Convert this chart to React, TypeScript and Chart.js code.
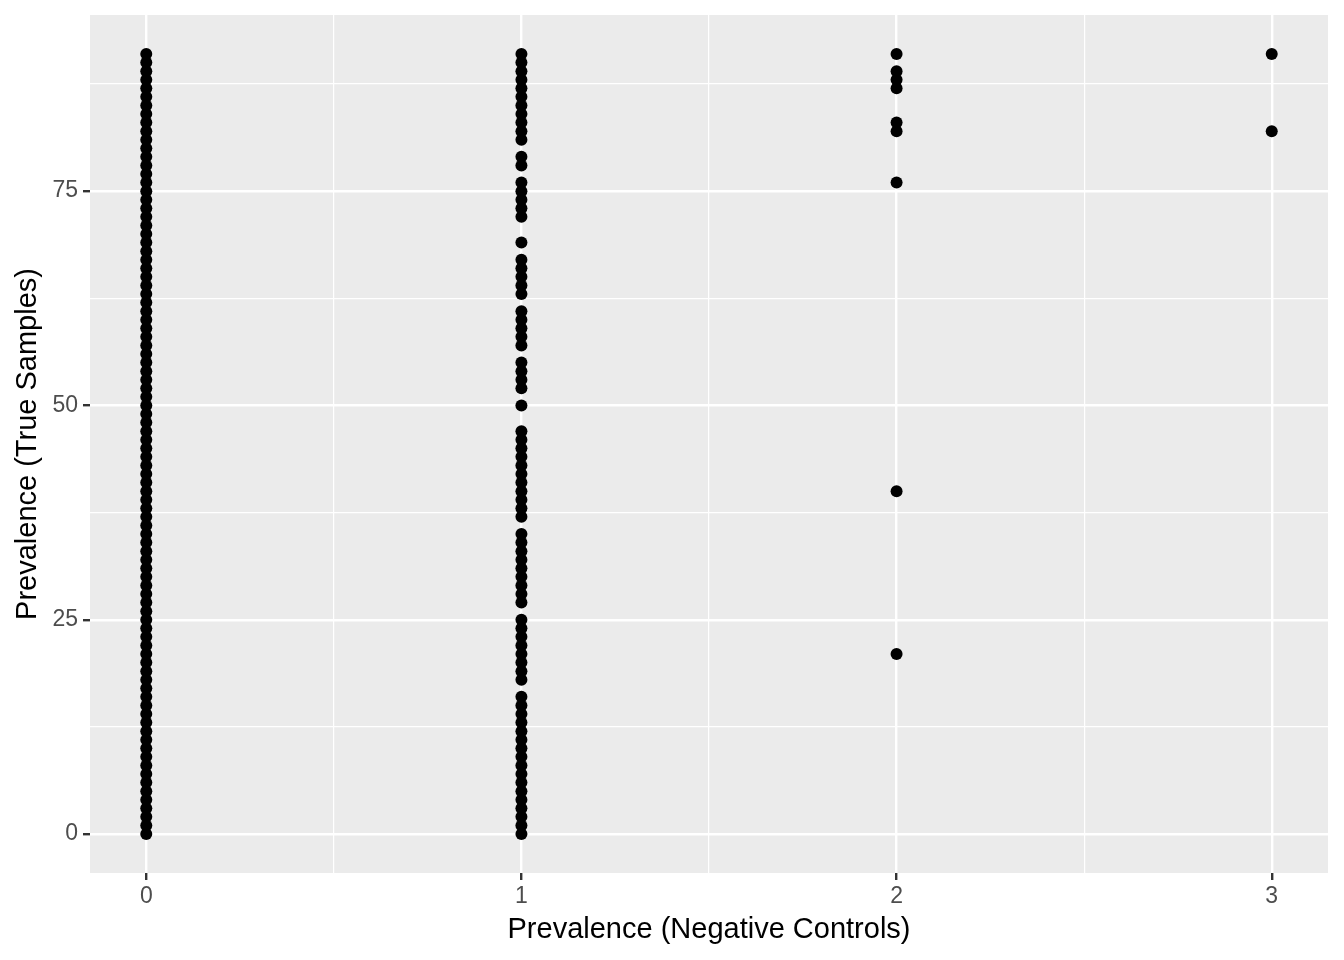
import React, { useEffect, useRef } from "react";
import { Chart, registerables } from "chart.js";

Chart.register(...registerables);

// Prevalence in negative controls (x) vs prevalence in true samples (y)
const col0Values = [
  0, 1, 2, 3, 4, 5, 6, 7, 8, 9, 10, 11, 12, 13, 14, 15, 16, 17, 18, 19, 20,
  21, 22, 23, 24, 25, 26, 27, 28, 29, 30, 31, 32, 33, 34, 35, 36, 37, 38, 39,
  40, 41, 42, 43, 44, 45, 46, 47, 48, 49, 50, 51, 52, 53, 54, 55, 56, 57, 58,
  59, 60, 61, 62, 63, 64, 65, 66, 67, 68, 69, 70, 71, 72, 73, 74, 75, 76, 77,
  78, 79, 80, 81, 82, 83, 84, 85, 86, 87, 88, 89, 90, 91,
];
const col1Values = [
  91, 90, 89, 88, 87, 86, 85, 84, 83, 82, 81, 79, 78, 76, 75, 74, 73, 72, 69,
  67, 66, 65, 64, 63, 61, 60, 59, 58, 57, 55, 54, 53, 52, 50, 47, 46, 45, 44,
  43, 42, 41, 40, 39, 38, 37, 35, 34, 33, 32, 31, 30, 29, 28, 27, 25, 24, 23,
  22, 21, 20, 19, 18, 16, 15, 14, 13, 12, 11, 10, 9, 8, 7, 6, 5, 4, 3, 2, 1, 0,
];
const col2Values = [91, 89, 88, 87, 83, 82, 76, 40, 21];
const col3Values = [91, 82];

const xCategories = [0, 1, 2, 3];
const xGridTicks = [0, 0.5, 1, 1.5, 2, 2.5, 3];
const yGridTicks = [0, 12.5, 25, 37.5, 50, 62.5, 75, 87.5];
const yMajorTicks = [0, 25, 50, 75];
const xTitle = "Prevalence (Negative Controls)";
const yTitle = "Prevalence (True Samples)";

const FONT = "'Liberation Sans', Arial, Helvetica, sans-serif";

export default function App() {
  const canvasRef = useRef<HTMLCanvasElement | null>(null);

  useEffect(() => {
    const canvas = canvasRef.current;
    if (!canvas) return;

    const columns = [col0Values, col1Values, col2Values, col3Values];
    const points: { x: number; y: number }[] = [];
    columns.forEach((vals, i) => {
      vals.forEach((v) => points.push({ x: xCategories[i], y: v }));
    });

    const panelBg = {
      id: "panelBg",
      beforeDraw(chart: any) {
        const { ctx, chartArea } = chart;
        ctx.save();
        ctx.fillStyle = "#EBEBEB";
        ctx.fillRect(
          chartArea.left,
          chartArea.top,
          chartArea.right - chartArea.left,
          chartArea.bottom - chartArea.top
        );
        ctx.restore();
      },
    };

    const isMajorX = (v: number) => Math.abs(v - Math.round(v)) < 1e-6;
    const isMajorY = (v: number) =>
      yMajorTicks.some((t) => Math.abs(t - v) < 1e-6);

    const chart = new Chart(canvas, {
      type: "scatter",
      data: {
        datasets: [
          {
            data: points,
            backgroundColor: "#000000",
            borderWidth: 0,
            pointRadius: 6,
            pointHoverRadius: 6,
          },
        ],
      },
      plugins: [panelBg],
      options: {
        animation: false,
        responsive: false,
        events: [],
        layout: { padding: { top: 15, right: 16, left: 0, bottom: 0 } },
        plugins: {
          legend: { display: false },
          tooltip: { enabled: false },
        },
        scales: {
          x: {
            type: "linear",
            min: -0.15,
            max: 3.15,
            afterBuildTicks: (scale: any) => {
              scale.ticks = xGridTicks.map((v) => ({ value: v }));
            },
            afterFit: (scale: any) => {
              scale.height = 87;
              scale.paddingLeft = 0;
              scale.paddingRight = 0;
            },
            border: { display: false },
            grid: {
              color: "#FFFFFF",
              lineWidth: (ctx: any) =>
                isMajorX(ctx.tick?.value ?? 0) ? 2.4 : 1.2,
              drawTicks: true,
              tickLength: 7,
              tickWidth: 2.4,
              tickColor: (ctx: any) =>
                isMajorX(ctx.tick?.value ?? 0) ? "#333333" : "rgba(0,0,0,0)",
            },
            ticks: {
              autoSkip: false,
              maxRotation: 0,
              padding: 5,
              color: "#4D4D4D",
              font: { family: FONT, size: 23, lineHeight: 1 },
              callback: (v: any) =>
                isMajorX(Number(v)) ? String(Math.round(Number(v))) : "",
            },
            title: {
              display: true,
              text: xTitle,
              color: "#000000",
              font: { family: FONT, size: 29, lineHeight: 1 },
              padding: { top: 0, bottom: 16 },
            },
          },
          y: {
            type: "linear",
            min: -4.55,
            max: 95.55,
            afterBuildTicks: (scale: any) => {
              scale.ticks = yGridTicks.map((v) => ({ value: v }));
            },
            afterFit: (scale: any) => {
              scale.width = 90;
              scale.paddingTop = 0;
              scale.paddingBottom = 0;
            },
            border: { display: false },
            grid: {
              color: "#FFFFFF",
              lineWidth: (ctx: any) =>
                isMajorY(ctx.tick?.value ?? 0) ? 2.4 : 1.2,
              drawTicks: true,
              tickLength: 7,
              tickWidth: 2.4,
              tickColor: (ctx: any) =>
                isMajorY(ctx.tick?.value ?? 0) ? "#333333" : "rgba(0,0,0,0)",
            },
            ticks: {
              autoSkip: false,
              padding: 5,
              color: "#4D4D4D",
              font: { family: FONT, size: 23, lineHeight: 1 },
              callback: (v: any) =>
                isMajorY(Number(v)) ? String(Number(v)) : "",
            },
            title: {
              display: true,
              text: yTitle,
              color: "#000000",
              font: { family: FONT, size: 29, lineHeight: 1 },
              padding: { top: 13, bottom: 0 },
            },
          },
        },
      },
    } as any);

    return () => chart.destroy();
  }, []);

  return (
    <div style={{ position: "absolute", left: 0, top: 0, width: 1344, height: 960 }}>
      <canvas ref={canvasRef} width={1344} height={960} style={{ display: "block" }} />
    </div>
  );
}
